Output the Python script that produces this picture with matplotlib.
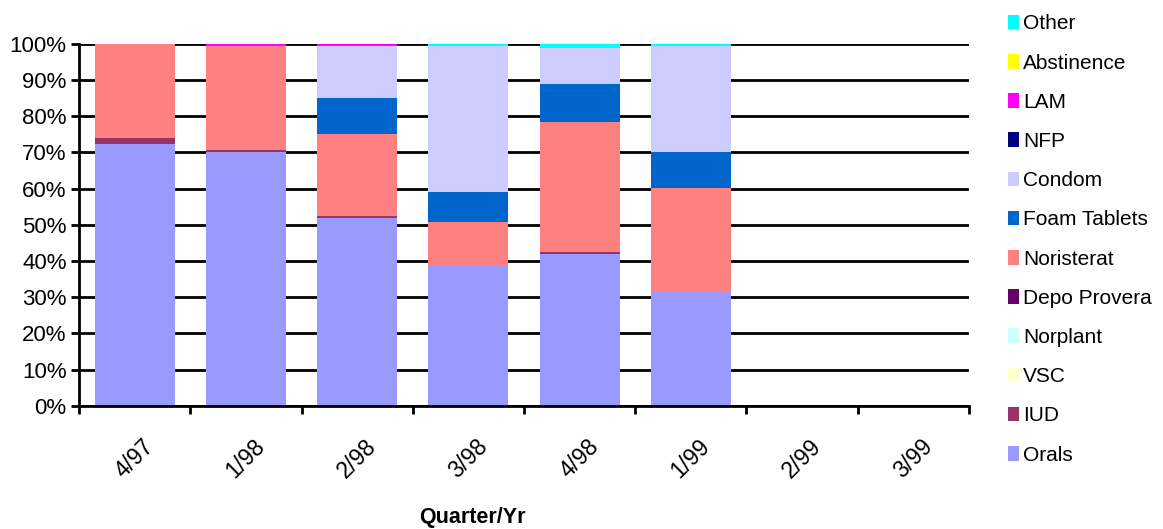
import numpy as np
import matplotlib.pyplot as plt

plt.rcParams['font.family'] = ['Liberation Sans', 'DejaVu Sans']

quarters = ['4/97', '1/98', '2/98', '3/98', '4/98', '1/99', '2/99', '3/99']

# percent share of each method per quarter
orals      = [72.3, 70.1, 51.9, 38.6, 41.9, 31.4, 0, 0]
iud        = [1.7, 0.6, 0.5, 0.0, 0.6, 0.0, 0, 0]
vsc        = [0, 0, 0, 0, 0, 0, 0, 0]
norplant   = [0, 0, 0, 0, 0, 0, 0, 0]
depo       = [0, 0, 0, 0, 0, 0, 0, 0]
noristerat = [26.0, 28.7, 22.7, 12.2, 35.9, 28.8, 0, 0]
foam       = [0, 0, 10.0, 8.3, 10.5, 9.9, 0, 0]
condom     = [0, 0, 14.3, 40.3, 10.0, 29.3, 0, 0]
nfp        = [0, 0, 0, 0, 0, 0, 0, 0]
lam        = [0, 0.6, 0.6, 0, 0, 0, 0, 0]
abstinence = [0, 0, 0, 0, 0, 0, 0, 0]
other      = [0, 0, 0, 0.6, 1.1, 0.6, 0, 0]

methods = ['Orals', 'IUD', 'VSC', 'Norplant', 'Depo Provera', 'Noristerat',
           'Foam Tablets', 'Condom', 'NFP', 'LAM', 'Abstinence', 'Other']
series = [orals, iud, vsc, norplant, depo, noristerat,
          foam, condom, nfp, lam, abstinence, other]
colors = ['#9999FF', '#993366', '#FFFFCC', '#CCFFFF', '#660066', '#FF8080',
          '#0066CC', '#CCCCFF', '#000080', '#FF00FF', '#FFFF00', '#00FFFF']

fig = plt.figure(figsize=(11.63, 5.29), dpi=100)
ax = fig.add_axes([0.068, 0.233, 0.765, 0.684])

x = np.arange(len(quarters))
bottom = np.zeros(len(quarters))
handles = []
for name, vals, c in zip(methods, series, colors):
    vals = np.array(vals, dtype=float)
    b = ax.bar(x, vals, width=0.72, bottom=bottom, color=c, label=name,
               linewidth=0)
    handles.append(b)
    bottom += vals

ax.set_xlim(-0.5, len(quarters) - 0.5)
ax.set_ylim(0, 100)
ax.set_yticks(np.arange(0, 101, 10))
ax.set_yticklabels([f'{v}%' for v in range(0, 101, 10)], fontsize=16)
ax.yaxis.grid(True, color='black', linewidth=2)
ax.set_axisbelow(True)

# boundary ticks on the category axis, labels sit at the bar centres
ax.set_xticks(np.arange(-0.5, len(quarters), 1))
ax.set_xticklabels([])
ax.set_xticks(x, minor=True)
ax.set_xticklabels(quarters, minor=True, rotation=45, ha='center', va='top',
                   fontsize=16.5)
ax.tick_params(axis='x', which='major', length=6, width=2, direction='out')
ax.tick_params(axis='x', which='minor', length=0, pad=21)
ax.tick_params(axis='y', length=6, width=2, direction='out', pad=3)

for s in ['top', 'right']:
    ax.spines[s].set_visible(False)
for s in ['left', 'bottom']:
    ax.spines[s].set_linewidth(2)

fig.text(472 / 1163, 1 - 517 / 529, 'Quarter/Yr', ha='center', va='center',
         fontsize=15.5, fontweight='bold')

leg = fig.legend(handles[::-1], methods[::-1], loc='upper left',
                 bbox_to_anchor=(1000 / 1163, 1 - 6 / 529), frameon=False,
                 fontsize=15, handlelength=0.5, handleheight=0.7,
                 handletextpad=0.2, labelspacing=0.97, borderaxespad=0)

fig.savefig('out.png', dpi=100)
